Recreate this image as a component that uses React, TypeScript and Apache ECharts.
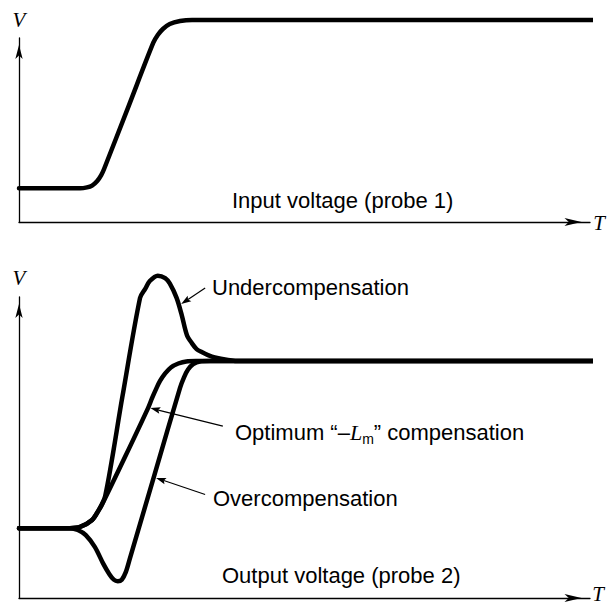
import React, { useEffect, useRef } from 'react';
import * as echarts from 'echarts';

// Time (T) and voltage (V) in arbitrary units: T 0..100, V 0..100 on each panel.
const inputVoltage: number[][] = [
  [0, 18.3], [10.7, 18.3], [11.9, 18.8], [12.8, 19.8], [13.7, 22.3], [14.4, 25.5], [14.9, 28.8],
  [19.2, 63.0], [23.5, 97.3], [24.3, 101.6], [25.2, 104.9], [26.4, 107.6], [28.2, 109.2],
  [30.3, 109.8], [103, 109.8],
];

const underCompensation: number[][] = [
  [0, 23.2], [8.9, 23.2], [10.7, 23.6], [12.8, 25.9], [13.9, 29.0], [15.1, 33.9], [18.1, 66.8],
  [21.2, 99.7], [22.1, 102.7], [22.9, 105.3], [24.3, 107.1], [25.6, 106.3], [26.4, 104.5],
  [27.6, 99.7], [28.5, 94.0], [29.4, 87.4], [30.3, 84.6], [31.1, 82.7], [32.0, 81.7],
  [33.1, 80.7], [34.3, 79.9], [36.6, 79.1], [38.7, 78.7], [103, 78.7],
];

const optimumCompensation: number[][] = [
  [0, 23.2], [8.9, 23.2], [10.7, 23.6], [12.8, 25.9], [13.9, 29.0], [14.5, 30.9], [18.6, 47.0],
  [22.6, 63.1], [23.3, 66.4], [24.0, 69.4], [24.7, 72.1], [25.6, 74.6], [26.6, 76.6],
  [27.9, 77.9], [29.3, 78.6], [31.0, 78.7], [103, 78.7],
];

const overCompensation: number[][] = [
  [0, 23.2], [8.9, 23.2], [10.3, 22.6], [11.7, 20.9], [13.3, 16.9], [14.7, 11.6], [15.8, 8.0],
  [16.6, 6.1], [17.3, 5.6], [18.0, 6.1], [18.7, 8.6], [19.4, 13.0], [23.8, 41.4], [28.2, 69.8],
  [28.9, 73.3], [29.6, 75.9], [30.5, 77.7], [31.7, 78.6], [33.5, 78.7], [103, 78.7],
];

// Annotation arrows of the lower panel: tail and tip in data units
const arrowTails: number[][] = [[32.6, 103.0], [35.7, 57.1], [32.6, 34.4]];
const arrowTips: number[][] = [[28.4, 97.7], [23.0, 63.1], [24.0, 39.9]];

const panelTitles = ['Input voltage (probe 1)', 'Output voltage (probe 2)'];
const curveLabels = ['Undercompensation', 'Optimum \u201C\u2013{L|L}{m|m}\u201D compensation', 'Overcompensation'];
const axisNames = { value: 'V', time: 'T' };

const SANS = '"Liberation Sans", Arial, Helvetica, sans-serif';
const SERIF = '"Liberation Serif", "Times New Roman", serif';
const INK = '#000';

export default function App() {
  const ref = useRef<HTMLDivElement>(null);

  useEffect(() => {
    const chart = echarts.init(ref.current!, undefined, { renderer: 'svg' });

    const axisLine = (isX: boolean) => ({
      show: true,
      onZero: false,
      lineStyle: { color: INK, width: 1.3 },
      symbol: ['none', 'arrow'],
      symbolSize: isX ? [6, 17] : [5.5, 14],
      symbolOffset: isX ? [0, -8.5] : [0, -7],
    });

    const xAxis = [0, 1].map((i) => ({
      type: 'value', gridIndex: i, min: 0, max: 100,
      axisLine: axisLine(true), axisTick: { show: false }, axisLabel: { show: false },
      splitLine: { show: false },
    }));
    const yAxis = [0, 1].map((i) => ({
      type: 'value', gridIndex: i, min: 0, max: 100,
      axisLine: axisLine(false), axisTick: { show: false }, axisLabel: { show: false },
      splitLine: { show: false },
    }));

    const curve = (data: number[][], axis: number) => ({
      type: 'line',
      xAxisIndex: axis,
      yAxisIndex: axis,
      data,
      symbol: 'none',
      showSymbol: false,
      smooth: 0.3,
      clip: false,
      silent: true,
      lineStyle: { color: INK, width: 4.5, cap: 'round', join: 'round' },
    });

    const arrowSeries = {
      type: 'custom',
      xAxisIndex: 1,
      yAxisIndex: 1,
      clip: false,
      silent: true,
      z: 5,
      data: arrowTails.map((t, i) => [t[0], t[1], arrowTips[i][0], arrowTips[i][1]]),
      renderItem: (_params: any, api: any) => {
        const p0 = api.coord([api.value(0), api.value(1)]);
        const p1 = api.coord([api.value(2), api.value(3)]);
        const dx = p1[0] - p0[0];
        const dy = p1[1] - p0[1];
        const len = Math.hypot(dx, dy) || 1;
        const ux = dx / len;
        const uy = dy / len;
        const nx = -uy;
        const ny = ux;
        const headL = 10;
        const headW = 3.3;
        const bx = p1[0] - ux * headL;
        const by = p1[1] - uy * headL;
        const nxB = p1[0] - ux * headL * 0.82;
        const nyB = p1[1] - uy * headL * 0.82;
        return {
          type: 'group',
          children: [
            {
              type: 'line',
              shape: { x1: p0[0], y1: p0[1], x2: nxB, y2: nyB },
              style: { stroke: INK, lineWidth: 1.2 },
            },
            {
              type: 'polygon',
              shape: {
                points: [
                  [p1[0], p1[1]],
                  [bx + nx * headW, by + ny * headW],
                  [nxB, nyB],
                  [bx - nx * headW, by - ny * headW],
                ],
              },
              style: { fill: INK },
            },
          ],
        };
      },
    };

    const textStyle = (text: string, extra: any = {}) => ({
      text,
      fontFamily: SANS,
      fontSize: 22,
      fill: INK,
      align: 'left',
      verticalAlign: 'middle',
      ...extra,
    });
    const italic = (text: string) => ({
      text,
      fontFamily: SERIF,
      fontStyle: 'italic',
      fontSize: 21,
      fill: INK,
      align: 'center',
      verticalAlign: 'middle',
    });

    chart.setOption({
      animation: false,
      backgroundColor: '#fff',
      grid: [
        { left: 19, right: 17, top: 38, height: 184 },
        { left: 19, right: 17, top: 297, height: 301 },
      ],
      xAxis,
      yAxis,
      series: [
        curve(inputVoltage, 0),
        curve(underCompensation, 1),
        curve(optimumCompensation, 1),
        curve(overCompensation, 1),
        arrowSeries,
      ],
      graphic: [
        { type: 'text', x: 19, y: 20, style: italic(axisNames.value) },
        { type: 'text', x: 19, y: 278, style: italic(axisNames.value) },
        { type: 'text', x: 599, y: 223, style: italic(axisNames.time) },
        { type: 'text', x: 598, y: 594, style: italic(axisNames.time) },
        { type: 'text', x: 232, y: 200, style: textStyle(panelTitles[0]) },
        { type: 'text', x: 222, y: 575, style: textStyle(panelTitles[1]) },
        { type: 'text', x: 212, y: 287, style: textStyle(curveLabels[0]) },
        {
          type: 'text', x: 235, y: 432,
          style: textStyle(curveLabels[1], {
            rich: {
              L: { fontFamily: SERIF, fontStyle: 'italic', fontSize: 22, fill: INK },
              m: { fontFamily: SANS, fontSize: 14, fill: INK, padding: [14, 0, 0, 0] },
            },
          }),
        },
        { type: 'text', x: 213, y: 498, style: textStyle(curveLabels[2]) },
      ],
    });

    return () => chart.dispose();
  }, []);

  return (
    <div
      ref={ref}
      style={{ position: 'fixed', left: 0, top: 0, width: 607, height: 606, background: '#fff' }}
    />
  );
}
